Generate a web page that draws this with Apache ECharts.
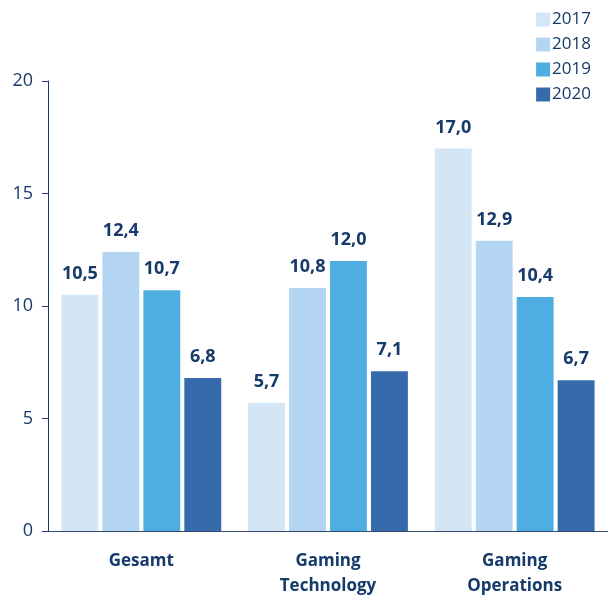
<!DOCTYPE html>
<html>
<head>
<meta charset="utf-8">
<script src="https://cdn.jsdelivr.net/npm/echarts@6/dist/echarts.min.js"></script>
<style>
  html, body { margin: 0; padding: 0; background: #fff; }
  #chart { width: 608px; height: 595px; }
</style>
</head>
<body>
<div id="chart"></div>
<script>
var categories = ['Gesamt', 'Gaming\nTechnology', 'Gaming\nOperations']
var years = ['2017', '2018', '2019', '2020']
var v2017 = [10.5, 5.7, 17.0]
var v2018 = [12.4, 10.8, 12.9]
var v2019 = [10.7, 12.0, 10.4]
var v2020 = [6.8, 7.1, 6.7]
var colors = ['#d4e5f6', '#b4d5f1', '#4faee1', '#376aab']
var textColor = '#163a6a'

var chart = echarts.init(document.getElementById('chart'))
var seriesData = [v2017, v2018, v2019, v2020]

chart.setOption({
  color: colors,
  animation: false,
  textStyle: { fontFamily: 'Open Sans' },
  legend: {
    orient: 'vertical',
    right: 12,
    top: 6,
    itemWidth: 14,
    itemHeight: 14,
    itemGap: 8,
    icon: 'rect',
    textStyle: { color: textColor, fontSize: 17, padding: [0, 0, 0, -3] },
    data: years
  },
  grid: {
    left: 48,
    right: 0,
    top: 81,
    bottom: 64,
    outerBoundsMode: 'none'
  },
  xAxis: {
    type: 'category',
    data: categories,
    axisTick: { show: false },
    axisLine: { lineStyle: { color: '#2f4a6e', width: 1 } },
    axisLabel: {
      color: textColor,
      fontSize: 17,
      fontWeight: 'bold',
      margin: 18,
      lineHeight: 25
    }
  },
  yAxis: {
    type: 'value',
    min: 0,
    max: 20,
    interval: 5,
    splitLine: { show: false },
    axisLine: { show: true, lineStyle: { color: '#163a6a' } },
    axisTick: { show: true, length: 6, lineStyle: { color: '#163a6a' } },
    axisLabel: { color: textColor, fontSize: 18, margin: 15 }
  },
  series: seriesData.map(function (d, i) {
    return {
      name: years[i],
      type: 'bar',
      data: d,
      barGap: '11%',
      barCategoryGap: '14.4%',
      label: {
        show: true,
        position: 'top',
        distance: 12,
        color: textColor,
        fontSize: 18,
        fontWeight: 'bold',
        formatter: function (p) {
          return p.value.toFixed(1).replace('.', ',')
        }
      }
    }
  })
})
</script>
</body>
</html>
